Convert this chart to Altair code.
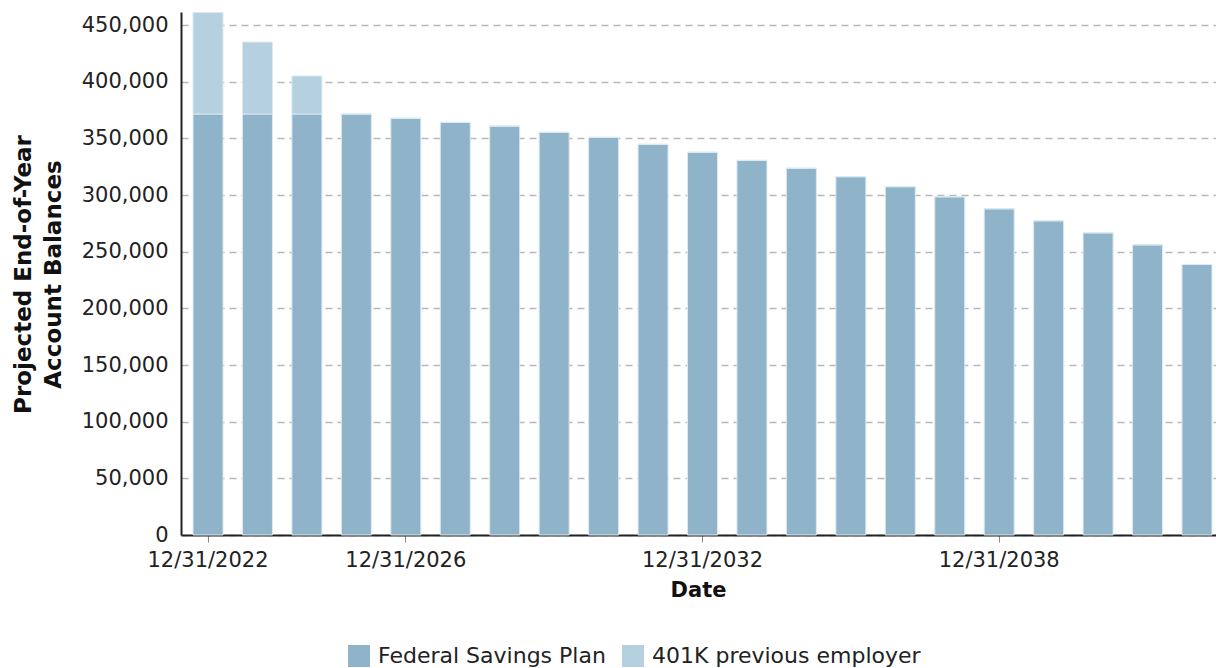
import altair as alt
import pandas as pd

years = list(range(2022, 2043))
dates = [f"12/31/{y}" for y in years]
fsp = [371500, 371500, 371500, 371500, 367700, 364100, 360900, 355300, 350900, 344700,
       337700, 330600, 323600, 316200, 307400, 298500, 287900, 277300, 266700, 256100, 238700]
k401 = [89500, 63500, 33500, 0, 0, 0, 0, 0, 0, 0,
        0, 0, 0, 0, 0, 0, 0, 0, 0, 0, 0]
series = ["Federal Savings Plan", "401K previous employer"]
colors = ["#8FB4CA", "#B5D0DE"]
tick_dates = ["12/31/2022", "12/31/2026", "12/31/2032", "12/31/2038"]

rows = []
for i, d in enumerate(dates):
    rows.append({"Date": d, "idx": i, "Series": series[0], "Value": fsp[i], "ord": 0})
    rows.append({"Date": d, "idx": i, "Series": series[1], "Value": k401[i], "ord": 1})
df = pd.DataFrame(rows)

FONT = "DejaVu Sans"

chart = alt.Chart(df).mark_bar(stroke="#DCEAF1", strokeWidth=1).encode(
    x=alt.X("Date:N", sort=dates,
            scale=alt.Scale(range=[0, 1043], paddingInner=0.393, paddingOuter=0.243),
            axis=alt.Axis(title="Date", values=tick_dates, labelAngle=0,
                          labelFont=FONT, labelFontSize=21, labelColor="#222222",
                          labelPadding=7, ticks=True, tickSize=7, tickColor="#888888",
                          domainColor="#222222", domainWidth=2,
                          titleFont=FONT, titleFontSize=21, titleFontWeight="bold",
                          titleColor="#111111", titlePadding=9, titleX=517, titleAnchor="middle",
                          grid=False)),
    y=alt.Y("Value:Q", stack="zero",
            scale=alt.Scale(domain=[0, 461500], nice=False),
            axis=alt.Axis(title=["Projected End-of-Year", "Account Balances"],
                          values=list(range(0, 450001, 50000)), format=",d",
                          labelFont=FONT, labelFontSize=21, labelColor="#222222",
                          labelPadding=13, ticks=False,
                          domainColor="#222222", domainWidth=2,
                          grid=True, gridColor="#B8B8B8", gridDash=[7, 5], gridWidth=1.5,
                          titleFont=FONT, titleFontSize=23, titleFontWeight="bold",
                          titleColor="#111111", titleAngle=-90, titleX=-169, titleY=262,
                          titleAlign="center", titleBaseline="top", titleLineHeight=30)),
    color=alt.Color("Series:N", scale=alt.Scale(domain=series, range=colors),
                    legend=alt.Legend(title=None, orient="none", direction="horizontal",
                                      legendX=167, legendY=633,
                                      symbolType="square", symbolSize=484,
                                      symbolStrokeWidth=0, labelLimit=1000,
                                      labelFont=FONT, labelFontSize=22, labelColor="#222222",
                                      labelOffset=8, columnPadding=16)),
    order=alt.Order("ord:Q", sort="ascending"),
).properties(
    width=1035, height=523,
    background="white",
    autosize=alt.AutoSizeParams(type="none"),
    padding={"left": 181, "top": 12, "right": 0, "bottom": 133},
).configure_view(strokeWidth=0, stroke="transparent")

chart.save("out.html", embed_options={"renderer": "svg", "actions": False})
